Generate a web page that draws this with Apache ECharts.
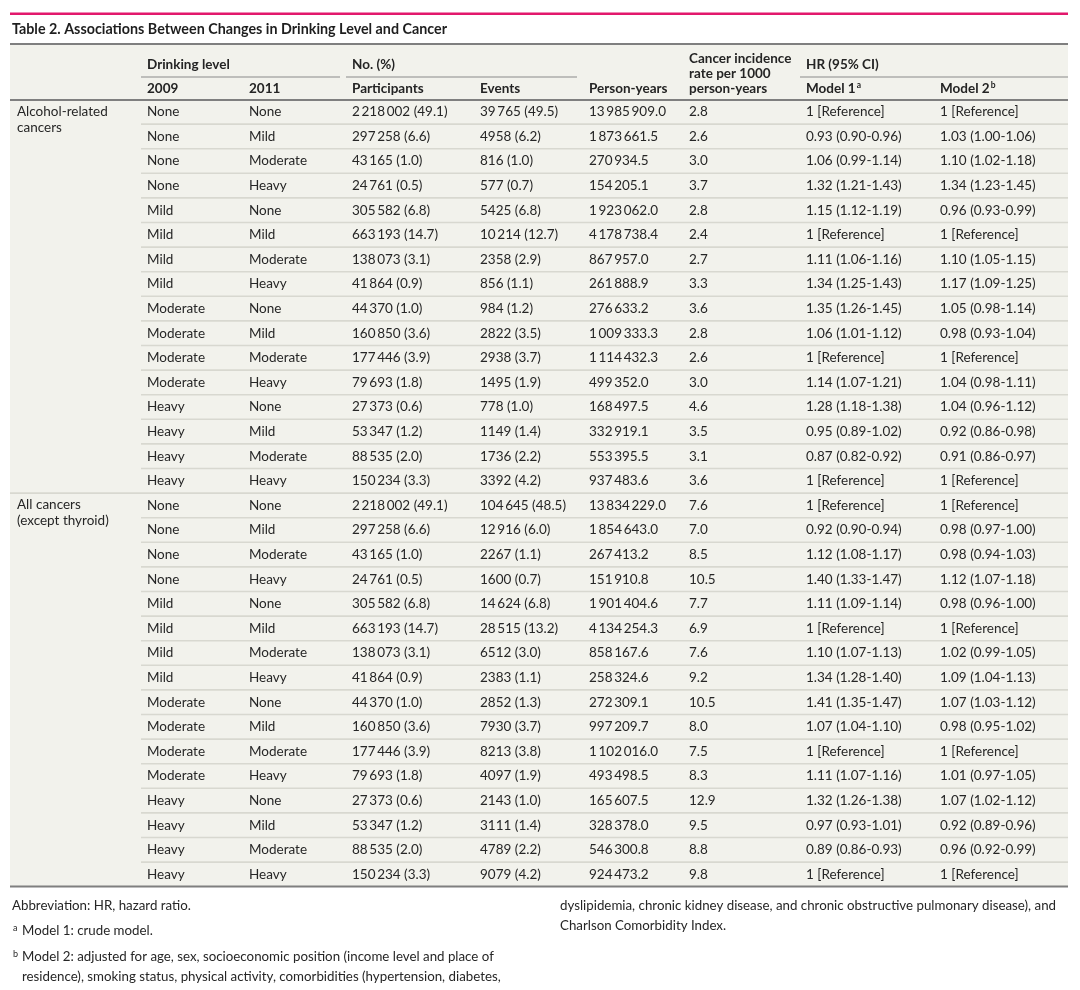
<!DOCTYPE html>
<html>

<head>
    <meta charset="utf-8">
    <script src="https://cdn.jsdelivr.net/npm/echarts@6/dist/echarts.min.js"></script>
    <style>
        * {
            padding: 0;
            margin: 0
        }

        body,
        html {
            height: 100%;
            width: 100%;
            background: #fff
        }

        #container {
            height: 990px;
            width: 1080px
        }
    </style>
</head>

<body>
    <div id="container"></div>
</body>
<script>
    // rows of each block (same drinking-level combinations in both blocks)
    const groupNames = ['Alcohol-related\ncancers', 'All cancers\n(except thyroid)'];
    const drink2009 = ['None', 'None', 'None', 'None', 'Mild', 'Mild', 'Mild', 'Mild',
        'Moderate', 'Moderate', 'Moderate', 'Moderate', 'Heavy', 'Heavy', 'Heavy', 'Heavy'];
    const drink2011 = ['None', 'Mild', 'Moderate', 'Heavy', 'None', 'Mild', 'Moderate', 'Heavy',
        'None', 'Mild', 'Moderate', 'Heavy', 'None', 'Mild', 'Moderate', 'Heavy'];
    const participantsN = [2218002, 297258, 43165, 24761, 305582, 663193, 138073, 41864,
        44370, 160850, 177446, 79693, 27373, 53347, 88535, 150234];
    const participantsPct = [49.1, 6.6, 1.0, 0.5, 6.8, 14.7, 3.1, 0.9, 1.0, 3.6, 3.9, 1.8, 0.6, 1.2, 2.0, 3.3];

    // alcohol-related cancers
    const eventsAlc = [39765, 4958, 816, 577, 5425, 10214, 2358, 856, 984, 2822, 2938, 1495, 778, 1149, 1736, 3392];
    const eventsPctAlc = [49.5, 6.2, 1.0, 0.7, 6.8, 12.7, 2.9, 1.1, 1.2, 3.5, 3.7, 1.9, 1.0, 1.4, 2.2, 4.2];
    const personYearsAlc = [13985909.0, 1873661.5, 270934.5, 154205.1, 1923062.0, 4178738.4, 867957.0, 261888.9,
        276633.2, 1009333.3, 1114432.3, 499352.0, 168497.5, 332919.1, 553395.5, 937483.6];
    const incidenceAlc = [2.8, 2.6, 3.0, 3.7, 2.8, 2.4, 2.7, 3.3, 3.6, 2.8, 2.6, 3.0, 4.6, 3.5, 3.1, 3.6];
    const model1Alc = [null, [0.93, 0.90, 0.96], [1.06, 0.99, 1.14], [1.32, 1.21, 1.43], [1.15, 1.12, 1.19], null,
        [1.11, 1.06, 1.16], [1.34, 1.25, 1.43], [1.35, 1.26, 1.45], [1.06, 1.01, 1.12], null, [1.14, 1.07, 1.21],
        [1.28, 1.18, 1.38], [0.95, 0.89, 1.02], [0.87, 0.82, 0.92], null];
    const model2Alc = [null, [1.03, 1.00, 1.06], [1.10, 1.02, 1.18], [1.34, 1.23, 1.45], [0.96, 0.93, 0.99], null,
        [1.10, 1.05, 1.15], [1.17, 1.09, 1.25], [1.05, 0.98, 1.14], [0.98, 0.93, 1.04], null, [1.04, 0.98, 1.11],
        [1.04, 0.96, 1.12], [0.92, 0.86, 0.98], [0.91, 0.86, 0.97], null];

    // all cancers (except thyroid)
    const eventsAll = [104645, 12916, 2267, 1600, 14624, 28515, 6512, 2383, 2852, 7930, 8213, 4097, 2143, 3111, 4789, 9079];
    const eventsPctAll = [48.5, 6.0, 1.1, 0.7, 6.8, 13.2, 3.0, 1.1, 1.3, 3.7, 3.8, 1.9, 1.0, 1.4, 2.2, 4.2];
    const personYearsAll = [13834229.0, 1854643.0, 267413.2, 151910.8, 1901404.6, 4134254.3, 858167.6, 258324.6,
        272309.1, 997209.7, 1102016.0, 493498.5, 165607.5, 328378.0, 546300.8, 924473.2];
    const incidenceAll = [7.6, 7.0, 8.5, 10.5, 7.7, 6.9, 7.6, 9.2, 10.5, 8.0, 7.5, 8.3, 12.9, 9.5, 8.8, 9.8];
    const model1All = [null, [0.92, 0.90, 0.94], [1.12, 1.08, 1.17], [1.40, 1.33, 1.47], [1.11, 1.09, 1.14], null,
        [1.10, 1.07, 1.13], [1.34, 1.28, 1.40], [1.41, 1.35, 1.47], [1.07, 1.04, 1.10], null, [1.11, 1.07, 1.16],
        [1.32, 1.26, 1.38], [0.97, 0.93, 1.01], [0.89, 0.86, 0.93], null];
    const model2All = [null, [0.98, 0.97, 1.00], [0.98, 0.94, 1.03], [1.12, 1.07, 1.18], [0.98, 0.96, 1.00], null,
        [1.02, 0.99, 1.05], [1.09, 1.04, 1.13], [1.07, 1.03, 1.12], [0.98, 0.95, 1.02], null, [1.01, 0.97, 1.05],
        [1.07, 1.02, 1.12], [0.92, 0.89, 0.96], [0.96, 0.92, 0.99], null];

    const FONT = 'Lato, "Noto Sans", sans-serif';
    const TXT = '#262626';
    const HEAD = '#242424';
    const BG = '#f2f2ec';
    const DARK = '#7f7f7f';
    const SEP = '#d8d8d0';

    // number with thin-space grouping (only from 10 000 up, as in the journal style)
    function fmt(n, dec) {
        const s = n.toFixed(dec);
        const parts = s.split('.');
        if (Math.abs(n) >= 10000) parts[0] = parts[0].replace(/\B(?=(\d{3})+(?!\d))/g, '\u2009');
        return parts.join('.');
    }
    function hr(v) {
        if (!v) return '1 [Reference]';
        return v[0].toFixed(2) + ' (' + v[1].toFixed(2) + '-' + v[2].toFixed(2) + ')';
    }

    const blocks = [
        [eventsAlc, eventsPctAlc, personYearsAlc, incidenceAlc, model1Alc, model2Alc],
        [eventsAll, eventsPctAll, personYearsAll, incidenceAll, model1All, model2All]
    ];
    const rows = [];
    blocks.forEach((b, g) => {
        drink2009.forEach((d, j) => {
            rows.push([
                j === 0 ? groupNames[g] : '',
                d,
                drink2011[j],
                fmt(participantsN[j], 0) + ' (' + participantsPct[j].toFixed(1) + ')',
                fmt(b[0][j], 0) + ' (' + b[1][j].toFixed(1) + ')',
                fmt(b[2][j], 1),
                b[3][j].toFixed(1),
                hr(b[4][j]),
                hr(b[5][j])
            ]);
        });
    });
    const rowIds = rows.map((r, i) => 'r' + i);

    // left edge of each column's text, in x-axis units (grid starts at 10px)
    const colText = [7, 137, 239, 342, 470, 579, 679, 796, 930];
    const innerLineStart = 131;
    const tableWidth = 1058;

    const container = document.getElementById('container');
    let myChart = echarts.init(container, null, { renderer: 'canvas' });

    function txt(text, x, y, opt) {
        return {
            type: 'text',
            silent: true,
            style: Object.assign({
                text: text, x: x, y: y, fill: TXT,
                font: '13.5px ' + FONT,
                textAlign: 'left', textVerticalAlign: 'middle',
                align: 'left', verticalAlign: 'middle'
            }, opt || {})
        };
    }
    function hline(x1, x2, y, color, w) {
        return {
            type: 'line', silent: true,
            shape: { x1: x1, y1: y, x2: x2, y2: y },
            style: { stroke: color, lineWidth: w }
        };
    }

    const HB = 'bold 13.5px ' + FONT;
    const FN = '13.3px ' + FONT;
    const supRich = {
        b: { font: HB, fill: HEAD },
        s: { fontSize: 8.5, fontFamily: 'Lato', fontWeight: 'bold', fill: HEAD, verticalAlign: 'top', padding: [0, 0, 7, 1] }
    };

    const graphics = [
        { type: 'rect', silent: true, z: -10, shape: { x: 10, y: 44, width: tableWidth, height: 843 }, style: { fill: BG } },
        { type: 'rect', silent: true, shape: { x: 10, y: 12.5, width: tableWidth, height: 2.6 }, style: { fill: '#e2186c' } },
        txt('Table 2. Associations Between Changes in Drinking Level and Cancer', 12, 29, { font: 'bold 14.3px ' + FONT, fill: '#1e1e1e' }),
        hline(10, 1068, 44, DARK, 2),
        txt('Drinking level', 147, 65, { font: HB, fill: HEAD }),
        txt('No. (%)', 352, 65, { font: HB, fill: HEAD }),
        txt('Cancer incidence', 689, 59, { font: HB, fill: HEAD }),
        txt('rate per 1000', 689, 74, { font: HB, fill: HEAD }),
        txt('person-years', 689, 89, { font: HB, fill: HEAD }),
        txt('HR (95% CI)', 806, 65, { font: HB, fill: HEAD }),
        hline(141, 340, 77, '#8a8a8a', 1.2),
        hline(346, 577, 77, '#8a8a8a', 1.2),
        hline(800, 1068, 77, '#8a8a8a', 1.2),
        txt('2009', 147, 89, { font: HB, fill: HEAD }),
        txt('2011', 249, 89, { font: HB, fill: HEAD }),
        txt('Participants', 352, 89, { font: HB, fill: HEAD }),
        txt('Events', 480, 89, { font: HB, fill: HEAD }),
        txt('Person-years', 589, 89, { font: HB, fill: HEAD }),
        txt('{b|Model 1}{s|a}', 806, 89, { rich: supRich }),
        txt('{b|Model 2}{s|b}', 940, 89, { rich: supRich }),
        hline(10, 1068, 100, DARK, 2),
        hline(10, 1068, 886.5, DARK, 2),
        // footnotes
        txt('Abbreviation: HR, hazard ratio.', 12, 906, { font: FN }),
        txt('a', 13, 928, { font: '9px ' + FONT }),
        txt('Model 1: crude model.', 22, 931, { font: FN }),
        txt('b', 13, 954, { font: '9px ' + FONT }),
        txt('Model 2: adjusted for age, sex, socioeconomic position (income level and place of', 22, 957, { font: FN }),
        txt('residence), smoking status, physical activity, comorbidities (hypertension, diabetes,', 22, 977, { font: FN }),
        txt('dyslipidemia, chronic kidney disease, and chronic obstructive pulmonary disease), and', 560, 906, { font: FN }),
        txt('Charlson Comorbidity Index.', 560, 926, { font: FN })
    ];

    const option = {
        animation: false,
        backgroundColor: '#fff',
        grid: { left: 10, right: 12, top: 99.5, height: 24.6 * rows.length },
        xAxis: { type: 'value', min: 0, max: tableWidth, show: false },
        yAxis: { type: 'category', data: rowIds, inverse: true, show: false },
        graphic: graphics,
        series: [{
            type: 'custom',
            encode: { x: 0, y: 1 },
            data: rows.map((r, i) => [0, i]),
            renderItem: function (params, api) {
                const i = api.value(1);
                const r = rows[i];
                const band = api.size([0, 1])[1];
                const children = [];
                r.forEach((cell, c) => {
                    if (!cell) return;
                    const p = api.coord([colText[c], i]);
                    if (c === 0) {
                        // two-line group label, first line on the row's centre
                        children.push(txt(cell, p[0], p[1] - 8.5, {
                            lineHeight: 16, textVerticalAlign: 'top', verticalAlign: 'top'
                        }));
                    } else {
                        children.push(txt(cell, p[0], p[1]));
                    }
                });
                const j = i % drink2009.length;
                const left = api.coord([0, i]);
                const right = api.coord([tableWidth, i]);
                const yb = left[1] + band / 2;
                if (i === rows.length - 1) {
                    // bottom rule drawn as graphic
                } else if (j === drink2009.length - 1) {
                    children.push(hline(left[0], right[0], yb, SEP, 1.6));
                } else {
                    children.push(hline(api.coord([innerLineStart, i])[0], right[0], yb, SEP, 1.6));
                }
                return { type: 'group', children: children };
            }
        }]
    };

    myChart.setOption(option);
</script>

</html>
